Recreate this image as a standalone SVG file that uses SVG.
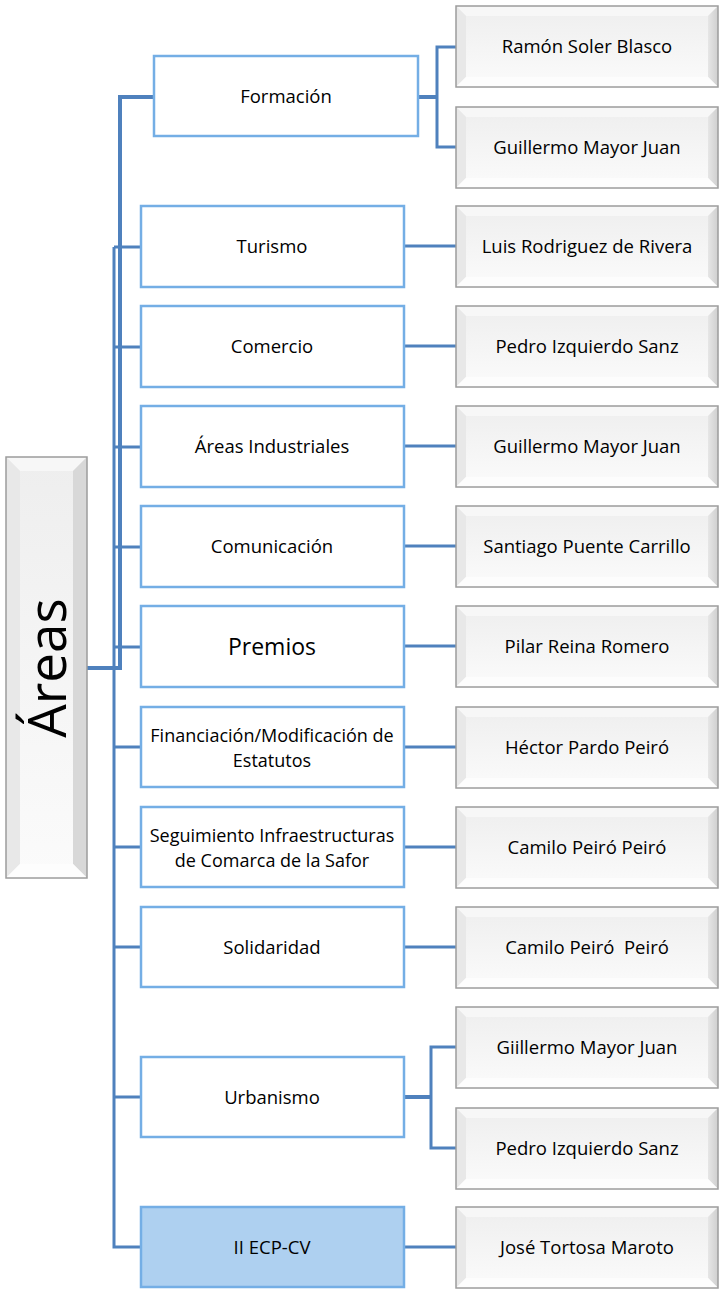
<svg xmlns="http://www.w3.org/2000/svg" xmlns:xlink="http://www.w3.org/1999/xlink" width="719" height="1290" viewBox="0 0 719 1290">
<style>
.t{font-family:"Open Sans","Liberation Sans",sans-serif;font-size:18.5px;fill:#000;text-anchor:middle}
.big{font-size:23px}
.two{font-size:18px}
.box{fill:#fff;stroke:#74aee5;stroke-width:2.5}
.hl{fill:#aed0f0}
.c{fill:none;stroke:#4f81bd;stroke-width:3}
.ct{stroke-width:4}
</style>
<defs>
<linearGradient id="face" x1="0" y1="0" x2="0" y2="1">
<stop offset="0" stop-color="#eeeeee"/><stop offset="1" stop-color="#fbfbfb"/>
</linearGradient>
<linearGradient id="rside" x1="0" y1="0" x2="1" y2="0">
<stop offset="0" stop-color="#e6e6e6"/><stop offset="1" stop-color="#cfcfcf"/>
</linearGradient>
<g id="bev">
<rect width="262" height="81" fill="url(#face)"/>
<polygon points="0,0 262,0 252,10 10,10" fill="#f7f7f7"/>
<polygon points="0,0 10,10 10,71 0,81" fill="#e8e8e8"/>
<polygon points="262,0 262,81 252,71 252,10" fill="url(#rside)"/>
<polygon points="0,81 10,71 252,71 262,81" fill="#fdfdfd"/>
<rect width="262" height="81" fill="none" stroke="#9c9c9c" stroke-width="1.5"/>
</g>
</defs>
<rect width="719" height="1290" fill="#fff"/>

<g id="connectors">
<path class="c ct" d="M87,668 H120 V97 H154"/>
<path class="c" d="M114,247 V1247 H140"/>
<path class="c" d="M114,247 H140 M114,347 H140 M114,447 H140 M114,547 H140 M114,647 H140 M114,747 H140 M114,847 H140 M114,947 H140 M114,1097 H140"/>
<path class="c ct" d="M419,97 H437"/>
<path class="c" d="M456,47 H437 V147 H456"/>
<path class="c" d="M404,246 H456 M404,346 H456 M404,446 H456 M404,546 H456 M404,646 H456 M404,747 H456 M404,847 H456 M404,947 H456 M404,1247 H456"/>
<path class="c ct" d="M404,1097 H431"/>
<path class="c" d="M456,1047 H431 V1148 H456"/>
</g>

<g id="areas">
<rect x="6" y="457" width="81" height="421" fill="url(#face)"/>
<polygon points="6,457 87,457 73,471 20,471" fill="#f7f7f7"/>
<polygon points="6,457 20,471 20,864 6,878" fill="#e8e8e8"/>
<polygon points="87,457 87,878 73,864 73,471" fill="#d8d8d8"/>
<polygon points="6,878 20,864 73,864 87,878" fill="#fdfdfd"/>
<rect x="6" y="457" width="81" height="421" fill="none" stroke="#9c9c9c" stroke-width="1.5"/>
<text class="t" transform="translate(66,668) rotate(-90)" style="font-size:53px">Áreas</text>
</g>

<g id="formacion"><rect class="box" x="154" y="56" width="264" height="80"/><text class="t" x="286" y="103">Formación</text></g>
<g id="turismo"><rect class="box" x="141" y="206" width="263" height="81"/><text class="t" x="272" y="253">Turismo</text></g>
<g id="comercio"><rect class="box" x="141" y="306" width="263" height="81"/><text class="t" x="272" y="353">Comercio</text></g>
<g id="industriales"><rect class="box" x="141" y="406" width="263" height="81"/><text class="t" x="272" y="453">Áreas Industriales</text></g>
<g id="comunicacion"><rect class="box" x="141" y="506" width="263" height="81"/><text class="t" x="272" y="553">Comunicación</text></g>
<g id="premios"><rect class="box" x="141" y="606" width="263" height="81"/><text class="t big" x="272" y="655">Premios</text></g>
<g id="financiacion"><rect class="box" x="141" y="707" width="263" height="80"/><text class="t two" x="272" y="742">Financiación/Modificación de</text><text class="t two" x="272" y="767">Estatutos</text></g>
<g id="seguimiento"><rect class="box" x="141" y="807" width="263" height="80"/><text class="t two" x="272" y="842">Seguimiento Infraestructuras</text><text class="t two" x="272" y="867">de Comarca de la Safor</text></g>
<g id="solidaridad"><rect class="box" x="141" y="907" width="263" height="80"/><text class="t" x="272" y="954">Solidaridad</text></g>
<g id="urbanismo"><rect class="box" x="141" y="1057" width="263" height="80"/><text class="t" x="272" y="1104">Urbanismo</text></g>
<g id="ecp"><rect class="box hl" x="141" y="1207" width="263" height="80"/><text class="t" x="272" y="1254">II ECP-CV</text></g>

<g id="p1"><use xlink:href="#bev" x="456" y="6"/><text class="t" x="587" y="53">Ramón Soler Blasco</text></g>
<g id="p2"><use xlink:href="#bev" x="456" y="107"/><text class="t" x="587" y="154">Guillermo Mayor Juan</text></g>
<g id="p3"><use xlink:href="#bev" x="456" y="206"/><text class="t" x="587" y="253">Luis Rodriguez de Rivera</text></g>
<g id="p4"><use xlink:href="#bev" x="456" y="306"/><text class="t" x="587" y="353">Pedro Izquierdo Sanz</text></g>
<g id="p5"><use xlink:href="#bev" x="456" y="406"/><text class="t" x="587" y="453">Guillermo Mayor Juan</text></g>
<g id="p6"><use xlink:href="#bev" x="456" y="506"/><text class="t" x="587" y="553">Santiago Puente Carrillo</text></g>
<g id="p7"><use xlink:href="#bev" x="456" y="606"/><text class="t" x="587" y="653">Pilar Reina Romero</text></g>
<g id="p8"><use xlink:href="#bev" x="456" y="707"/><text class="t" x="587" y="754">Héctor Pardo Peiró</text></g>
<g id="p9"><use xlink:href="#bev" x="456" y="807"/><text class="t" x="587" y="854">Camilo Peiró Peiró</text></g>
<g id="p10"><use xlink:href="#bev" x="456" y="907"/><text class="t" x="587" y="954" xml:space="preserve">Camilo Peiró  Peiró</text></g>
<g id="p11"><use xlink:href="#bev" x="456" y="1007"/><text class="t" x="587" y="1054">Giillermo Mayor Juan</text></g>
<g id="p12"><use xlink:href="#bev" x="456" y="1108"/><text class="t" x="587" y="1155">Pedro Izquierdo Sanz</text></g>
<g id="p13"><use xlink:href="#bev" x="456" y="1207"/><text class="t" x="587" y="1254">José Tortosa Maroto</text></g>
</svg>
